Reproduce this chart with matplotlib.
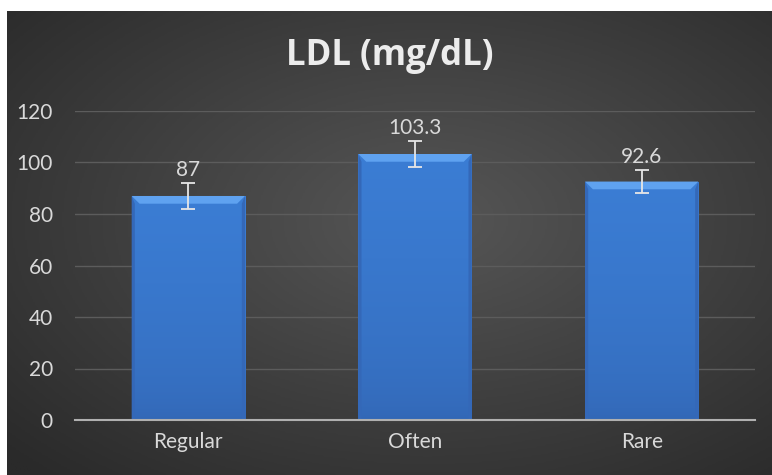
import numpy as np
import matplotlib.pyplot as plt
from matplotlib.colors import LinearSegmentedColormap
from matplotlib.patches import Polygon

categories = ["Regular", "Often", "Rare"]
values = [87, 103.3, 92.6]
errors = [5, 5, 4.5]
value_labels = ["87", "103.3", "92.6"]
yticks = [0, 20, 40, 60, 80, 100, 120]

plt.rcParams['font.family'] = ['Lato', 'DejaVu Sans']
txt = '#d9d9d9'

fig = plt.figure(figsize=(7.72, 4.75), dpi=100, facecolor='white')

# dark panel with radial gradient
bg = fig.add_axes([7 / 772, 0, 1 - 7 / 772, 1 - 11 / 475])
bg.set_axis_off()
yy, xx = np.mgrid[0:1:300j, 0:1:500j]
r = np.sqrt(((xx - 0.55) / 0.75) ** 2 + ((yy - 0.55) / 0.75) ** 2)
bg_cmap = LinearSegmentedColormap.from_list('bg', ['#2a2a2a', '#565656'])
bg.imshow(1 - np.clip(r, 0, 1), cmap=bg_cmap, aspect='auto', extent=[0, 1, 0, 1], origin='lower')

ax = fig.add_axes([75 / 772, 55 / 475, 680 / 772, 309 / 475])
ax.patch.set_alpha(0)
x = np.arange(len(categories))
width = 0.5
bars = ax.bar(x, values, width=width, color='#3a7bd2', zorder=2)

# body shading on each bar
shade = LinearSegmentedColormap.from_list('bar', ['#3266b4', '#3b7dd4'])
grad = np.linspace(0, 1, 200).reshape(-1, 1)
for b in bars:
    x0, w, h = b.get_x(), b.get_width(), b.get_height()
    im = ax.imshow(np.sqrt(grad), cmap=shade, vmin=0, vmax=1, aspect='auto',
                   extent=[x0, x0 + w, 0, h], origin='lower', zorder=3)
    im.set_clip_path(b)
    # bevels: top light trapezoid, darker side strips
    dx, dy = 0.035, 3.0
    ax.add_patch(Polygon([(x0, h), (x0 + w, h), (x0 + w - dx, h - dy), (x0 + dx, h - dy)],
                         closed=True, facecolor='#5fa2f0', edgecolor='none', zorder=4))
    ax.add_patch(Polygon([(x0, 0), (x0, h), (x0 + dx * 0.4, h - dy), (x0 + dx * 0.4, 0)],
                         closed=True, facecolor='#3468b8', edgecolor='none', zorder=4))
    ax.add_patch(Polygon([(x0 + w, 0), (x0 + w, h), (x0 + w - dx * 0.4, h - dy), (x0 + w - dx * 0.4, 0)],
                         closed=True, facecolor='#3468b8', edgecolor='none', zorder=4))

ax.errorbar(x, values, yerr=errors, fmt='none', ecolor='#e6e6e6',
            elinewidth=1.3, capsize=5, capthick=1.3, zorder=5)
for xi, v, e, lab in zip(x, values, errors, value_labels):
    ax.text(xi, v + e + 2.7, lab, ha='center', va='baseline', color=txt, fontsize=15, zorder=6)

ax.set_xlim(-0.5, len(categories) - 0.5)
ax.set_ylim(0, 120)
ax.set_yticks(yticks)
ax.set_xticks(x)
ax.set_xticklabels(categories)
ax.yaxis.grid(True, color='#5c5c5c', linewidth=1)
ax.set_axisbelow(True)
ax.tick_params(axis='both', length=0, colors=txt, labelsize=15)
ax.tick_params(axis='y', pad=16)
ax.tick_params(axis='x', pad=9)
for s in ['top', 'right', 'left']:
    ax.spines[s].set_visible(False)
ax.spines['bottom'].set_color('#b0b0b0')
ax.spines['bottom'].set_linewidth(1.5)
ax.spines['bottom'].set_zorder(7)

fig.text(0.505, 1 - 65 / 475, "LDL (mg/dL)", ha='center', va='baseline',
         color='#ececec', fontsize=25, fontweight='bold',
         family=['Open Sans', 'DejaVu Sans'])

fig.savefig('out.png', dpi=100, facecolor='white')
